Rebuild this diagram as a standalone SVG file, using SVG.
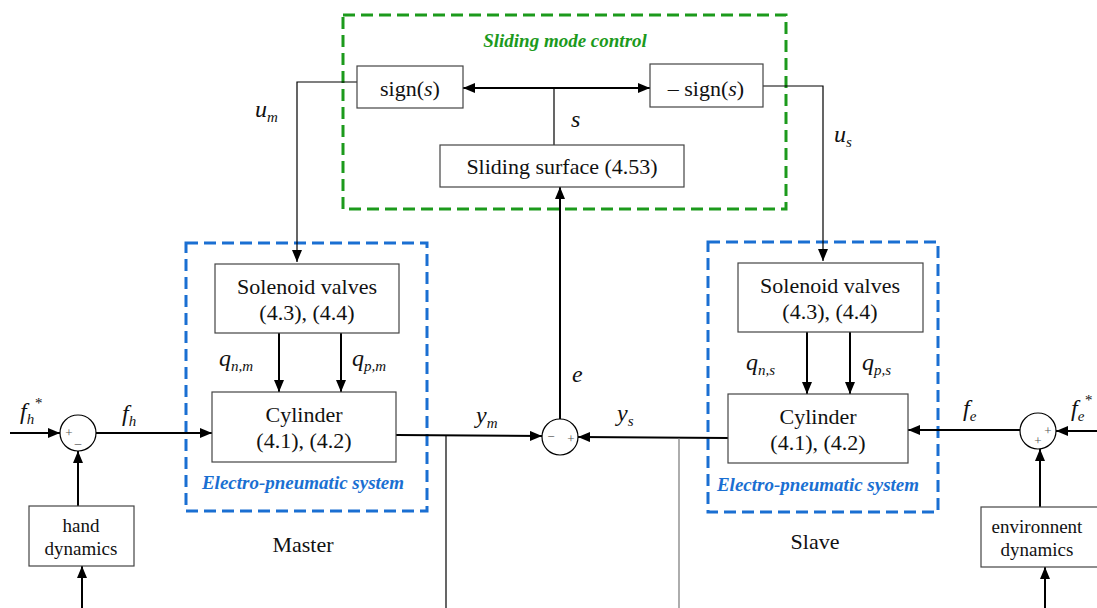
<svg xmlns="http://www.w3.org/2000/svg" width="1097" height="608" viewBox="0 0 1097 608">
<defs>
<marker id="ah" viewBox="0 0 12 10" refX="12" refY="5" markerWidth="12" markerHeight="10" markerUnits="userSpaceOnUse" orient="auto"><path d="M0,0 L12,5 L0,10 Z" fill="#000"/></marker>
</defs>

<g id="groups" fill="none" stroke-width="3" stroke-dasharray="12 6">
<rect x="343" y="15" width="443" height="194" stroke="#1c9a1c"/>
<rect x="186" y="243" width="241" height="268" stroke="#1a6fd2"/>
<rect x="708" y="242" width="230" height="270" stroke="#1a6fd2"/>
</g>
<g id="group-labels" font-family="Liberation Serif" font-style="italic" font-weight="bold" font-size="19" text-anchor="middle">
<text x="565" y="47" fill="#1c9a1c">Sliding mode control</text>
<text x="303" y="489" fill="#1a6fd2">Electro-pneumatic system</text>
<text x="818" y="491" fill="#1a6fd2">Electro-pneumatic system</text>
</g>

<g id="connectors" stroke="#000" fill="none">
<g stroke-width="2">
<line x1="554" y1="88" x2="463" y2="88" marker-end="url(#ah)"/>
<line x1="554" y1="88" x2="650" y2="88" marker-end="url(#ah)"/>
<line x1="279" y1="333" x2="279" y2="392" marker-end="url(#ah)"/>
<line x1="341" y1="333" x2="341" y2="392" marker-end="url(#ah)"/>
<line x1="807" y1="332" x2="807" y2="394" marker-end="url(#ah)"/>
<line x1="850" y1="332" x2="850" y2="394" marker-end="url(#ah)"/>
<line x1="10" y1="433" x2="60" y2="433" marker-end="url(#ah)"/>
<line x1="96" y1="433" x2="212" y2="433" marker-end="url(#ah)"/>
<line x1="78" y1="506" x2="78" y2="451" marker-end="url(#ah)"/>
<line x1="82" y1="608" x2="82" y2="566" marker-end="url(#ah)"/>
<line x1="396" y1="435" x2="542" y2="436" marker-end="url(#ah)"/>
<line x1="728" y1="438" x2="578" y2="437" marker-end="url(#ah)"/>
<line x1="560" y1="419" x2="560" y2="187" marker-end="url(#ah)"/>
<line x1="1020" y1="430" x2="908" y2="430" marker-end="url(#ah)"/>
<line x1="1097" y1="431" x2="1056" y2="431" marker-end="url(#ah)"/>
<line x1="1040" y1="507" x2="1040" y2="449" marker-end="url(#ah)"/>
<line x1="1045" y1="608" x2="1045" y2="567" marker-end="url(#ah)"/>
</g>
<g stroke-width="1.2">
<line x1="554" y1="88" x2="554" y2="145"/>
<polyline points="357,82 297,82 297,262" marker-end="url(#ah)"/>
<polyline points="763,86 823,86 823,261" marker-end="url(#ah)"/>
<line x1="446" y1="435" x2="446" y2="608"/>
<line x1="679" y1="438" x2="679" y2="608" stroke="#777"/>
</g>
</g>

<g font-family="Liberation Serif" font-size="22" text-anchor="middle">
<g id="sign">
<rect x="357" y="66" width="106" height="42" fill="#fff" stroke="#444" stroke-width="1.2"/>
<text x="410" y="96" fill="#111">sign(<tspan font-style="italic">s</tspan>)</text>
</g>
<g id="neg-sign">
<rect x="650" y="64" width="113" height="43" fill="#fff" stroke="#444" stroke-width="1.2"/>
<text x="706" y="96" fill="#111">– sign(<tspan font-style="italic">s</tspan>)</text>
</g>
<g id="sliding-surface">
<rect x="440" y="145" width="244" height="42" fill="#fff" stroke="#444" stroke-width="1.2"/>
<text x="562" y="174" fill="#111">Sliding surface (4.53)</text>
</g>
<g id="solenoid-master">
<rect x="215" y="264" width="184" height="69" fill="#fff" stroke="#444" stroke-width="1.2"/>
<text x="307" y="294" fill="#111">Solenoid valves</text>
<text x="307" y="320" fill="#111">(4.3), (4.4)</text>
</g>
<g id="cylinder-master">
<rect x="212" y="392" width="184" height="70" fill="#fff" stroke="#444" stroke-width="1.2"/>
<text x="304" y="422" fill="#111">Cylinder</text>
<text x="304" y="448" fill="#111">(4.1), (4.2)</text>
</g>
<g id="solenoid-slave">
<rect x="738" y="263" width="185" height="69" fill="#fff" stroke="#444" stroke-width="1.2"/>
<text x="830" y="293" fill="#111">Solenoid valves</text>
<text x="830" y="319" fill="#111">(4.3), (4.4)</text>
</g>
<g id="cylinder-slave">
<rect x="728" y="394" width="180" height="69" fill="#fff" stroke="#444" stroke-width="1.2"/>
<text x="818" y="424" fill="#111">Cylinder</text>
<text x="818" y="450" fill="#111">(4.1), (4.2)</text>
</g>
<g id="hand-dynamics" font-size="19">
<rect x="29" y="506" width="105" height="60" fill="#fff" stroke="#444" stroke-width="1.2"/>
<text x="81" y="532" fill="#111">hand</text>
<text x="81" y="555" fill="#111">dynamics</text>
</g>
<g id="env-dynamics" font-size="19">
<rect x="981" y="507" width="119" height="60" fill="#fff" stroke="#444" stroke-width="1.2"/>
<text x="1037" y="533" fill="#111">environnent</text>
<text x="1037" y="556" fill="#111">dynamics</text>
</g>
<g id="sum-master" font-size="13">
<circle cx="78" cy="433" r="18" fill="#fff" stroke="#000" stroke-width="1.2"/>
<text x="69" y="437" fill="#555">+</text>
<text x="78" y="443" fill="#555">_</text>
</g>
<g id="sum-error" font-size="13">
<circle cx="560" cy="437" r="18" fill="#fff" stroke="#000" stroke-width="1.2"/>
<text x="551" y="441" fill="#555">−</text>
<text x="571" y="443" fill="#555">+</text>
</g>
<g id="sum-slave" font-size="13">
<circle cx="1038" cy="431" r="18" fill="#fff" stroke="#000" stroke-width="1.2"/>
<text x="1048" y="435" fill="#555">+</text>
<text x="1038" y="445" fill="#555">+</text>
</g>
<text x="303" y="552" fill="#111">Master</text>
<text x="815" y="549" fill="#111">Slave</text>
</g>

<g id="labels" font-family="Liberation Serif" font-style="italic" font-size="24" fill="#111">
<text x="255" y="117">u<tspan font-size="15" dy="5">m</tspan></text>
<text x="834" y="142">u<tspan font-size="15" dy="5">s</tspan></text>
<text x="571" y="127">s</text>
<text x="219" y="366">q<tspan font-size="15" dy="5">n,m</tspan></text>
<text x="352" y="366">q<tspan font-size="15" dy="5">p,m</tspan></text>
<text x="746" y="370">q<tspan font-size="15" dy="5">n,s</tspan></text>
<text x="862" y="370">q<tspan font-size="15" dy="5">p,s</tspan></text>
<text x="572" y="382">e</text>
<text x="476" y="423">y<tspan font-size="15" dy="5">m</tspan></text>
<text x="617" y="421">y<tspan font-size="15" dy="5">s</tspan></text>
<text x="20" y="419">f<tspan font-size="15" dy="5">h</tspan><tspan font-size="15" dy="-16">*</tspan></text>
<text x="122" y="421">f<tspan font-size="15" dy="5">h</tspan></text>
<text x="963" y="416">f<tspan font-size="15" dy="5">e</tspan></text>
<text x="1071" y="416">f<tspan font-size="15" dy="5">e</tspan><tspan font-size="15" dy="-16">*</tspan></text>
</g>
</svg>
